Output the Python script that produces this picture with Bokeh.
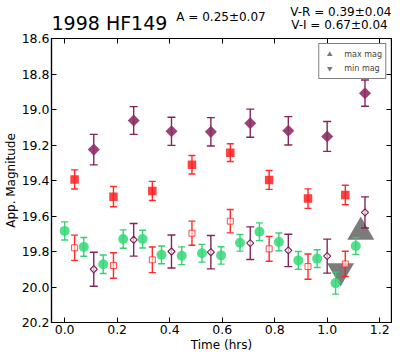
import math
from bokeh.plotting import figure
from bokeh.layouts import column
from bokeh.models import (Range1d, LinearAxis, FixedTicker, PrintfTickFormatter,
                          Legend, LegendItem)
from bokeh.core.properties import value
from bokeh.embed import file_html
from bokeh.resources import INLINE

# ---------------- data ----------------
green_t = [0.0, 0.073, 0.147, 0.223, 0.297, 0.369, 0.446, 0.523, 0.596, 0.668, 0.742, 0.816, 0.890, 0.962, 1.032, 1.109]
green_m = [19.684, 19.774, 19.872, 19.730, 19.730, 19.819, 19.824, 19.810, 19.822, 19.751, 19.689, 19.746, 19.850, 19.840, 19.978, 19.769]
green_e = [0.051, 0.053, 0.052, 0.052, 0.050, 0.050, 0.050, 0.050, 0.049, 0.047, 0.050, 0.050, 0.050, 0.050, 0.062, 0.047]

red_t = [0.038, 0.186, 0.334, 0.485, 0.631, 0.779, 0.927, 1.069]
red_m = [19.394, 19.491, 19.459, 19.311, 19.243, 19.397, 19.502, 19.482]
red_e = [0.054, 0.057, 0.054, 0.052, 0.050, 0.053, 0.055, 0.055]

redo_m = [19.779, 19.879, 19.847, 19.697, 19.629, 19.785, 19.885, 19.870]
redo_e = [0.071, 0.072, 0.072, 0.068, 0.066, 0.070, 0.071, 0.071]

pur_t = [0.111, 0.263, 0.407, 0.557, 0.707, 0.852, 1.000, 1.144]
pur_m = [19.226, 19.062, 19.123, 19.126, 19.077, 19.120, 19.152, 18.908]
pur_e = [0.086, 0.078, 0.079, 0.080, 0.079, 0.080, 0.084, 0.074]

puro_m = [19.900, 19.734, 19.800, 19.804, 19.753, 19.794, 19.826, 19.580]
puro_e = [0.096, 0.092, 0.093, 0.094, 0.092, 0.091, 0.096, 0.088]

max_t = [1.128]
max_m = [19.69]
min_t = [1.051]
min_m = [19.91]

x_ticks = [0.0, 0.2, 0.4, 0.6, 0.8, 1.0, 1.2]
y_ticks = [18.6, 18.8, 19.0, 19.2, 19.4, 19.6, 19.8, 20.0, 20.2]

title_text = "1998 HF149"
amp_text = "A  = 0.25\u00b10.07"
vr_text = "V-R = 0.39\u00b10.04"
vi_text = "V-I  = 0.67\u00b10.04"

FONT = "DejaVu Sans"
W = 392
TOP_H = 31
MAIN_H = 354 - TOP_H
LEFT = 45
RIGHT = 1
FRAME_W = W - LEFT - RIGHT

# ---------------- header strip with the titles ----------------
head = figure(width=W, height=TOP_H, output_backend="svg", toolbar_location=None,
              title=None, x_range=Range1d(0, FRAME_W), y_range=Range1d(TOP_H, 0),
              x_axis_type=None, y_axis_type=None, min_border_left=LEFT,
              min_border_right=RIGHT, min_border_top=0, min_border_bottom=0)
head.grid.visible = False
head.outline_line_color = None
head.background_fill_color = "white"
head.border_fill_color = "white"
head.text(x=[0], y=[22], text=[title_text], text_font=value(FONT), text_font_size="19px",
          text_color="black", text_baseline="alphabetic", text_align="left")
head.text(x=[127], y=[16], text=[amp_text], text_font=value(FONT), text_font_size="12px",
          text_color="black", text_baseline="alphabetic", text_align="left")
head.text(x=[FRAME_W, FRAME_W], y=[11, 24], text=[vr_text, vi_text], text_font=value(FONT),
          text_font_size="12px", text_color="black", text_baseline="alphabetic",
          text_align="right")

# ---------------- main figure ----------------
p = figure(width=W, height=MAIN_H, output_backend="svg", toolbar_location=None,
           title=None, x_range=Range1d(-0.05, 1.245), y_range=Range1d(20.2, 18.6),
           min_border_left=LEFT, min_border_right=RIGHT, min_border_top=7,
           min_border_bottom=31,
           x_axis_label="Time (hrs)", y_axis_label="App. Magnitude")
p.grid.visible = False
p.outline_line_color = "black"
p.outline_line_width = 1.2
p.background_fill_color = "white"
p.border_fill_color = "white"

def style_axis(ax, ticks, show_labels=True):
    ax.ticker = FixedTicker(ticks=ticks)
    ax.formatter = PrintfTickFormatter(format="%.1f")
    ax.major_tick_in = 5
    ax.major_tick_out = 0
    ax.minor_tick_in = 0
    ax.minor_tick_out = 0
    ax.axis_line_color = "black"
    ax.axis_line_width = 1.2
    ax.major_tick_line_color = "black"
    ax.major_label_text_font = FONT
    ax.axis_label_text_font = FONT
    ax.axis_label_text_font_style = "normal"
    ax.axis_label_text_font_size = "12px"
    ax.axis_label_text_color = "black"
    ax.major_label_text_font_size = "12.5px"
    if show_labels:
        ax.major_label_text_color = "black"
        ax.major_label_standoff = 2
        ax.axis_label_standoff = 1
    else:
        ax.major_label_text_color = None
        ax.major_label_standoff = 0

style_axis(p.xaxis[0], x_ticks)
style_axis(p.yaxis[0], y_ticks)
top_ax = LinearAxis()
style_axis(top_ax, x_ticks, show_labels=False)
p.add_layout(top_ax, "above")
right_ax = LinearAxis()
style_axis(right_ax, y_ticks, show_labels=False)
p.add_layout(right_ax, "right")

# ---------------- extrema triangles (under the data) ----------------
tri_up = p.scatter(max_t, max_m, marker="triangle", size=27, fill_color="#7b7b7b",
                   line_color=None)
tri_dn = p.scatter(min_t, min_m, marker="inverted_triangle", size=27, fill_color="#7b7b7b",
                   line_color=None)

def errbars(t, m, e, color, cap, lw=1.4, alpha=0.95):
    lo = [a - b for a, b in zip(m, e)]
    up = [a + b for a, b in zip(m, e)]
    p.segment(x0=t, y0=lo, x1=t, y1=up, line_color=color, line_width=lw, line_alpha=alpha)
    p.scatter(t, lo, marker="dash", size=cap, line_color=color, line_width=lw, line_alpha=alpha)
    p.scatter(t, up, marker="dash", size=cap, line_color=color, line_width=lw, line_alpha=alpha)

GREEN = "#2ecc71"
RED = "#ff2020"
PURP = "#7e1a52"

errbars(green_t, green_m, green_e, GREEN, 7)
p.scatter(green_t, green_m, marker="circle", size=10, fill_color="#33d977", fill_alpha=0.85,
          line_color=None)
errbars(red_t, red_m, red_e, RED, 7)
p.scatter(red_t, red_m, marker="square", size=8.5, fill_color=RED, fill_alpha=0.85,
          line_color=None)
errbars(red_t, redo_m, redo_e, RED, 7)
p.scatter(red_t, redo_m, marker="square", size=6, fill_color="white", fill_alpha=0.6,
          line_color=RED, line_width=1, line_alpha=0.8)
errbars(pur_t, pur_m, pur_e, PURP, 8)
p.scatter(pur_t, pur_m, marker="square", angle=math.pi / 4, size=8.5, fill_color="#8e2f68",
          fill_alpha=0.9, line_color=None)
errbars(pur_t, puro_m, puro_e, PURP, 8)
p.scatter(pur_t, puro_m, marker="square", angle=math.pi / 4, size=5, fill_color="white",
          fill_alpha=0.6, line_color=PURP, line_width=1.1)

# ---------------- legend ----------------
legend = Legend(items=[LegendItem(label="max mag", renderers=[tri_up]),
                       LegendItem(label="min mag", renderers=[tri_dn])],
                location="top_right", label_text_font=FONT, label_text_font_size="8px",
                glyph_height=14, glyph_width=14, label_height=14, spacing=0, padding=3,
                margin=5, label_standoff=8, border_line_color="black", border_line_width=1,
                background_fill_color="white", background_fill_alpha=1)
p.add_layout(legend)

layout = column(head, p, spacing=0)
open("out.html", "w").write(file_html(layout, INLINE))
